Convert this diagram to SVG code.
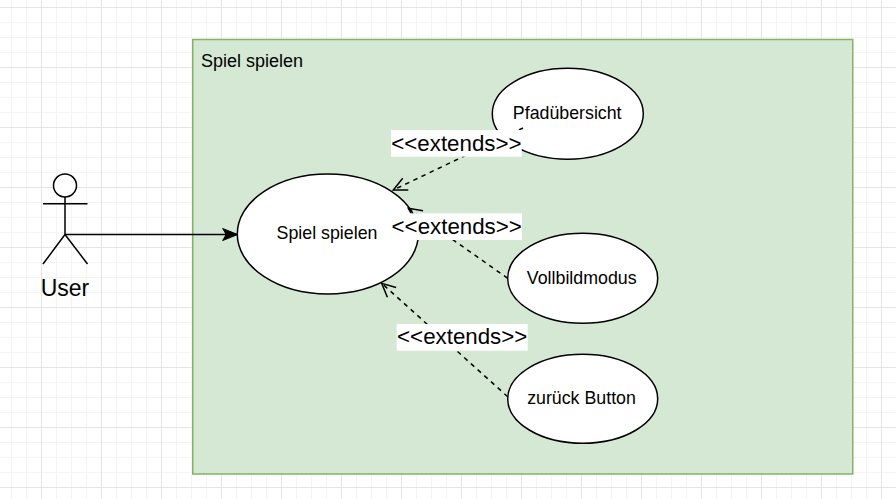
<svg xmlns="http://www.w3.org/2000/svg" width="896" height="499" viewBox="0 0 896 499">
  <defs>
    <pattern id="grid" patternUnits="userSpaceOnUse" x="41" y="7" width="60" height="60">
      <rect width="60" height="60" fill="#ffffff"/>
      <path d="M15.5,0 V60 M30.5,0 V60 M45.5,0 V60 M0,15.5 H60 M0,30.5 H60 M0,45.5 H60" stroke="#f4f4f4" stroke-width="1" fill="none"/>
      <path d="M0.5,0 V60 M0,0.5 H60" stroke="#e4e4e4" stroke-width="1" fill="none"/>
    </pattern>
    <marker id="open" viewBox="-16 -9 18 18" refX="0" refY="0" markerWidth="18" markerHeight="18" markerUnits="userSpaceOnUse" orient="auto">
      <path d="M-13.5,-6.5 L0,0 L-13.5,6.5" fill="none" stroke="#000" stroke-width="1.5" stroke-dasharray="none"/>
    </marker>
    <marker id="classic" viewBox="-16 -8 18 16" refX="0" refY="0" markerWidth="18" markerHeight="16" markerUnits="userSpaceOnUse" orient="auto">
      <path d="M0,0 L-15,-6 L-11.5,0 L-15,6 Z" fill="#000" stroke="#000" stroke-width="1"/>
    </marker>
  </defs>
  <style>
    .t { font-family: "Liberation Sans", Arial, sans-serif; fill: #000; }
    .uc { fill: #fff; stroke: #000; stroke-width: 1.5; }
    .uct { font-size: 17.8px; text-anchor: middle; }
    .dash { fill: none; stroke: #000; stroke-width: 1.5; stroke-dasharray: 4.5 4.5; marker-end: url(#open); }
    .lblbg { fill: #fff; }
    .lbl { font-size: 22.3px; text-anchor: middle; }
  </style>

  <rect x="0" y="0" width="896" height="499" fill="url(#grid)"/>

  <g id="container">
    <rect x="192.75" y="39.5" width="660" height="434.5" fill="#d5e8d4" stroke="#82b366" stroke-width="1.5"/>
    <text class="t" x="201" y="66.7" font-size="18px">Spiel spielen</text>
  </g>

  <g id="actor-user">
    <circle cx="65" cy="185.5" r="11.5" fill="#fff" stroke="#000" stroke-width="1.5"/>
    <path d="M65,197 V234.5 M43,203.7 H87.5 M65,234.5 L43,264 M65,234.5 L87.5,264" fill="none" stroke="#000" stroke-width="1.5"/>
    <text class="t" x="65" y="295.5" font-size="23px" text-anchor="middle">User</text>
  </g>

  <g id="uc-spiel">
    <ellipse class="uc" cx="327.8" cy="234" rx="90.5" ry="60"/>
    <text class="t uct" x="327" y="239">Spiel spielen</text>
  </g>

  <g id="uc-pfad">
    <ellipse class="uc" cx="567.8" cy="113.7" rx="75.5" ry="45.5"/>
    <text class="t uct" x="567.2" y="118.5">Pfadübersicht</text>
  </g>

  <g id="uc-vollbild">
    <ellipse class="uc" cx="582.7" cy="278.3" rx="75" ry="45"/>
    <text class="t uct" x="581.7" y="284">Vollbildmodus</text>
  </g>

  <g id="uc-zurueck">
    <ellipse class="uc" cx="582.7" cy="398.8" rx="75" ry="44.5"/>
    <text class="t uct" x="581.5" y="403.5">zurück Button</text>
  </g>

  <g id="connectors">
    <line x1="65" y1="234.5" x2="237.7" y2="234.5" stroke="#000" stroke-width="1.5" marker-end="url(#classic)"/>
    <line class="dash" x1="523" y1="128" x2="393.3" y2="190"/>
    <line class="dash" x1="507.7" y1="278.3" x2="408.3" y2="208.3"/>
    <line class="dash" x1="507.7" y1="396.7" x2="381.7" y2="283.3"/>

    <g id="label-1">
      <rect class="lblbg" x="391" y="130" width="130.7" height="26.7"/>
      <text class="t lbl" x="456.4" y="150.5">&lt;&lt;extends&gt;&gt;</text>
    </g>
    <g id="label-2">
      <rect class="lblbg" x="391.5" y="213.3" width="130.5" height="26.7"/>
      <text class="t lbl" x="456.7" y="233.7">&lt;&lt;extends&gt;&gt;</text>
    </g>
    <g id="label-3">
      <rect class="lblbg" x="396.7" y="324" width="131" height="26.7"/>
      <text class="t lbl" x="462.2" y="344.3">&lt;&lt;extends&gt;&gt;</text>
    </g>
  </g>
</svg>
